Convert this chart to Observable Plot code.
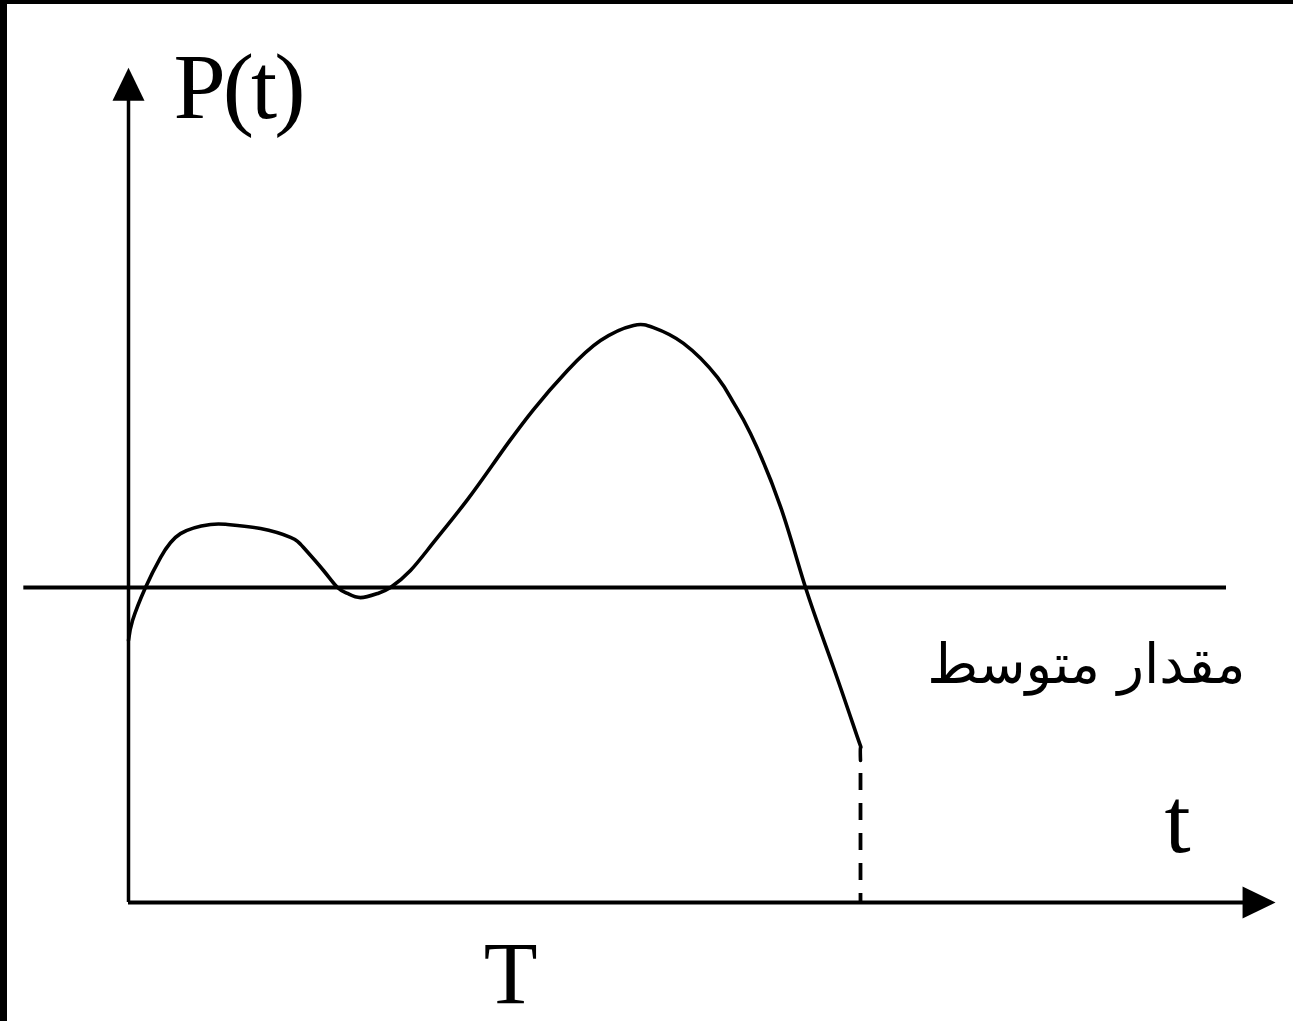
<!DOCTYPE html>
<html>
<head>
<meta charset="utf-8">
<script src="https://cdn.jsdelivr.net/npm/d3@7"></script>
<script src="https://cdn.jsdelivr.net/npm/@observablehq/plot@0.6"></script>
<style>
  html, body { margin: 0; padding: 0; background: #fff; overflow: hidden; }
  #wrap { position: relative; width: 1293px; height: 1021px; }
  #edge { position: absolute; left: 0; top: 0; width: 1293px; height: 1021px; box-sizing: border-box;
          border-left: 7px solid #000; border-top: 4px solid #000; pointer-events: none; }
</style>
</head>
<body>
<div id="wrap"><div id="edge"></div></div>
<script>
// Instantaneous power over one period T, against its average value
const timeValues  = [0, 0.055, 0.232, 0.437, 0.71, 1.12, 1.352, 1.803, 2.213, 2.391, 2.664, 2.855, 2.992, 3.169, 3.402, 3.579, 3.852, 4.167, 4.631, 5.082, 5.533, 5.997, 6.448, 6.899, 7.172, 7.582, 8.046, 8.265, 8.497, 8.907, 9.249, 9.631, 9.959, 10.0, 10.0];
const powerValues = [8.32, 8.95, 10.0, 10.95, 11.71, 12.0, 12.0, 11.87, 11.59, 11.27, 10.54, 10.0, 9.81, 9.68, 9.81, 10.0, 10.54, 11.43, 12.79, 14.25, 15.65, 16.89, 17.84, 18.32, 18.25, 17.75, 16.67, 15.87, 14.89, 12.57, 10.0, 7.46, 5.24, 4.92, 4.51];

const period = 10;          // T
const averagePower = 10;    // mean level
const meanLineSpan = [-1.43, 15];
const yAxisTip = 26.5;
const xAxisTip = 15.67;

const labelAxisY = "P(t)";
const labelAxisX = "t";
const labelPeriod = "T";
const labelAverage = "مقدار متوسط";

const curve = timeValues.map((t, i) => ({t, p: powerValues[i]}));
const endPower = powerValues[powerValues.length - 1];

// Filled arrowheads with the tip at the symbol origin
const arrowUp = {
  draw(ctx, size) {
    const h = Math.sqrt(size / Math.PI) * 2, w = h * 0.97;
    ctx.moveTo(0, 0); ctx.lineTo(w / 2, h); ctx.lineTo(-w / 2, h); ctx.closePath();
  }
};
const arrowRight = {
  draw(ctx, size) {
    const h = Math.sqrt(size / Math.PI) * 2, w = h * 0.97;
    ctx.moveTo(0, 0); ctx.lineTo(-h, -w / 2); ctx.lineTo(-h, w / 2); ctx.closePath();
  }
};

const serif = "'Liberation Serif', 'Times New Roman', serif";

const chart = Plot.plot({
  width: 1293,
  height: 1021,
  marginLeft: 128,
  marginRight: 67,
  marginTop: 20,
  marginBottom: 119,
  x: {domain: [0, 15], axis: null},
  y: {domain: [0, 28], axis: null},
  marks: [
    // average level
    Plot.ruleY([averagePower], {x1: meanLineSpan[0], x2: meanLineSpan[1], stroke: "#000", strokeWidth: 3.8}),
    // axes
    Plot.ruleX([0], {y1: 0, y2: yAxisTip - 0.9, stroke: "#000", strokeWidth: 3.5}),
    Plot.ruleY([0], {x1: 0, x2: xAxisTip - 0.35, stroke: "#000", strokeWidth: 3.8}),
    Plot.dot([{t: 0, p: yAxisTip}], {x: "t", y: "p", symbol: arrowUp, r: 16.5, fill: "#000", stroke: "none"}),
    Plot.dot([{t: xAxisTip, p: 0}], {x: "t", y: "p", symbol: arrowRight, r: 16.5, fill: "#000", stroke: "none"}),
    // end of period marker
    Plot.ruleX([period], {y1: 0, y2: endPower, stroke: "#000", strokeWidth: 3.8, strokeDasharray: "17,13", strokeDashoffset: 8}),
    // power curve
    Plot.line(curve, {x: "t", y: "p", curve: "natural", stroke: "#000", strokeWidth: 3.6}),
    // labels
    Plot.text([labelAxisY], {x: 0.615, y: 24.89, text: d => d, textAnchor: "start", lineAnchor: "bottom", fontSize: 94, fontFamily: serif, fill: "#000"}),
    Plot.text([labelAxisX], {x: 14.33, y: 1.59, text: d => d, textAnchor: "middle", lineAnchor: "bottom", fontSize: 94, fontFamily: serif, fill: "#000"}),
    Plot.text([labelPeriod], {x: 5.22, y: -3.2, text: d => d, textAnchor: "middle", lineAnchor: "bottom", fontSize: 88, fontFamily: serif, fill: "#000"}),
    Plot.text([labelAverage], {x: 15.26, y: 6.98, text: d => d, textAnchor: "end", lineAnchor: "bottom", fontSize: 55, fontFamily: "'DejaVu Sans', sans-serif", fill: "#000"})
  ]
});
chart.style.display = "block";
chart.style.background = "#fff";
document.getElementById("wrap").insertBefore(chart, document.getElementById("edge"));
// tighten the serif axis label a little
chart.querySelectorAll("text").forEach(el => { if (el.textContent === labelAxisY) el.setAttribute("letter-spacing", "-3"); });
</script>
</body>
</html>
